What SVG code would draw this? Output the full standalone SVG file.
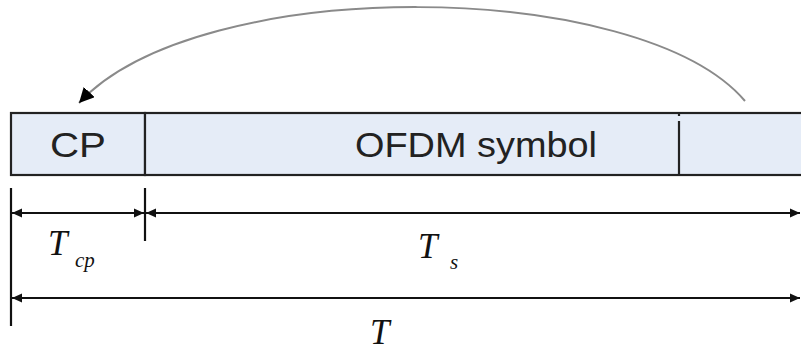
<svg xmlns="http://www.w3.org/2000/svg" width="801" height="353" viewBox="0 0 801 353">
  <style>
    .frame { fill: #e5ecf7; stroke: #222; stroke-width: 2.2; }
    .divider { stroke: #222; stroke-width: 2.2; }
    .label { font-family: "Liberation Sans", Arial, sans-serif; font-size: 35px; fill: #222; }
    .math { font-family: "Liberation Serif", "Times New Roman", serif; font-style: italic; fill: #111; }
    .dim { stroke: #111; stroke-width: 2.2; fill: none; }
    .loop { stroke: #8a8a8a; stroke-width: 2; fill: none; }
  </style>
  <defs>
    <marker id="dimHead" viewBox="0 0 10 10" refX="10" refY="5" markerWidth="10" markerHeight="10" markerUnits="userSpaceOnUse" orient="auto-start-reverse">
      <path d="M0,0.5 L10,5 L0,9.5 Z" fill="#111"/>
    </marker>
    <marker id="loopHead" viewBox="0 0 10 10" refX="10" refY="5" markerWidth="15" markerHeight="15" markerUnits="userSpaceOnUse" orient="auto">
      <path d="M0,0 L10,5 L0,10 Z" fill="#000"/>
    </marker>
  </defs>

  <!-- symbol frame: cyclic prefix followed by the OFDM symbol -->
  <g id="cp">
    <rect class="frame" x="11" y="113" width="134" height="62"/>
    <text class="label" x="78" y="157" text-anchor="middle" textLength="56" lengthAdjust="spacingAndGlyphs">CP</text>
  </g>
  <g id="ofdm-symbol">
    <rect class="frame" x="145" y="113" width="670" height="62"/>
    <line class="divider" x1="679" y1="113" x2="679" y2="116"/>
    <line class="divider" x1="679" y1="121" x2="679" y2="175"/>
    <text class="label" x="476" y="157" text-anchor="middle" textLength="242" lengthAdjust="spacingAndGlyphs">OFDM symbol</text>
  </g>

  <g id="connectors">
    <!-- tail of the symbol copied in front as the prefix -->
    <path class="loop" d="M745,101 C640,-22 200,-27 79,103" marker-end="url(#loopHead)"/>

    <!-- extension ticks -->
    <line class="dim" x1="11" y1="188" x2="11" y2="326"/>
    <line class="dim" x1="145" y1="188" x2="145" y2="241"/>

    <!-- Tcp and Ts spans -->
    <line class="dim" x1="12" y1="213" x2="144" y2="213" marker-start="url(#dimHead)" marker-end="url(#dimHead)"/>
    <line class="dim" x1="146" y1="213" x2="800" y2="213" marker-start="url(#dimHead)" marker-end="url(#dimHead)"/>

    <!-- total span T -->
    <line class="dim" x1="12" y1="298" x2="800" y2="298" marker-start="url(#dimHead)" marker-end="url(#dimHead)"/>
  </g>

  <g id="label-tcp">
    <text class="math" x="48" y="255" font-size="35">T</text>
    <text class="math" x="75" y="267" font-size="21">cp</text>
  </g>
  <g id="label-ts">
    <text class="math" x="418" y="258" font-size="35">T</text>
    <text class="math" x="450" y="269" font-size="21">s</text>
  </g>
  <g id="label-t">
    <text class="math" x="370" y="344" font-size="35">T</text>
  </g>
</svg>
